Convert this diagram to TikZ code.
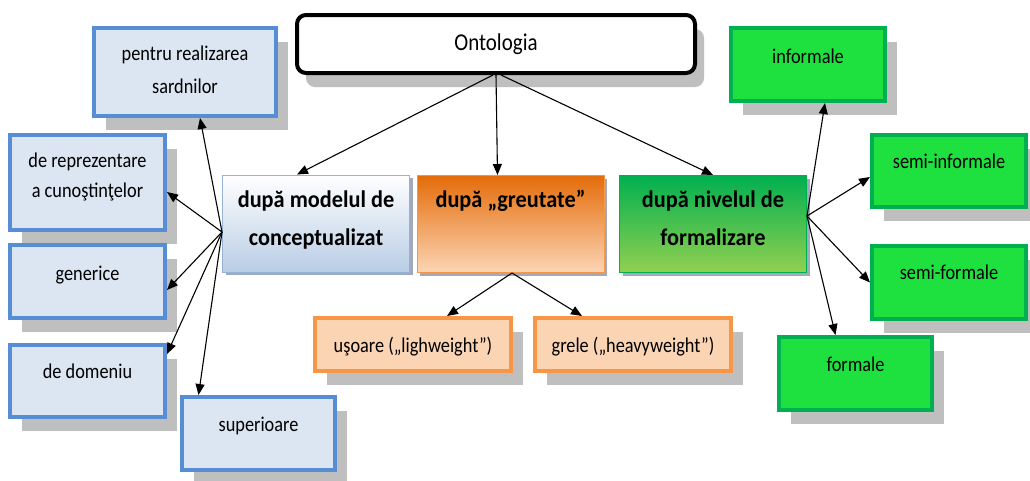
\documentclass[tikz,border=0pt]{standalone}
\usepackage{fontspec}
\setmainfont{Carlito}
\usepackage{graphicx}
\usetikzlibrary{arrows.meta,shadows}

\definecolor{bluefill}{RGB}{220,230,242}
\definecolor{blueline}{RGB}{85,142,213}
\definecolor{shadegray}{RGB}{191,191,191}
\definecolor{orfill}{RGB}{251,212,180}
\definecolor{orline}{RGB}{247,150,70}
\definecolor{grfill}{RGB}{30,224,62}
\definecolor{grline}{RGB}{0,176,80}
\definecolor{orangetop}{RGB}{228,108,10}
\definecolor{orangebot}{RGB}{252,213,181}
\definecolor{greentop}{RGB}{0,176,80}
\definecolor{greenbot}{RGB}{146,208,80}
\definecolor{bluebot}{RGB}{185,205,229}
\definecolor{bluerim}{RGB}{149,179,215}
\definecolor{midshadow}{RGB}{160,170,190}

% slightly taller lettering
\newcommand{\tall}[1]{\scalebox{1}[1.15]{#1}}
\newcommand{\tallb}[1]{\scalebox{1}[1.07]{#1}}

\tikzset{
  sq/.style={draw, rectangle, line width=4pt, inner sep=0pt,
    drop shadow={shadow xshift=12pt, shadow yshift=-14pt, fill=shadegray, opacity=1}},
  bluebox/.style={sq, draw=blueline, fill=bluefill},
  orbox/.style={sq, draw=orline, fill=orfill},
  grbox/.style={sq, draw=grline, fill=grfill},
  rootbox/.style={draw=black, fill=white, rectangle, rounded corners=9pt, line width=4pt, inner sep=0pt,
    drop shadow={shadow xshift=9pt, shadow yshift=-14pt, fill=shadegray, opacity=1}},
  midbox/.style={rectangle, line width=1pt, inner sep=0pt,
    minimum width=187pt, minimum height=97pt,
    drop shadow={shadow xshift=3pt, shadow yshift=-3pt, fill=midshadow, opacity=1}},
  txt/.style={anchor=base, inner sep=0pt, font=\fontsize{18.3}{22}\selectfont},
  roottxt/.style={anchor=base, inner sep=0pt, font=\fontsize{21}{25}\selectfont},
  btxt/.style={anchor=base, inner sep=0pt, font=\bfseries\fontsize{22.3}{26}\selectfont},
  arr/.style={draw=black, line width=1.1pt, -{Triangle[length=11pt,width=9pt]}}
}

\begin{document}
\begin{tikzpicture}[x=1pt,y=1pt]
\useasboundingbox (0,0) rectangle (1030,-480);
\fill[white] (0,0) rectangle (1030,-480);

% root
\node[rootbox, minimum width=398pt, minimum height=58pt] (ont) at (496,-44) {};

% middle classification boxes
\node[midbox, draw=bluerim, top color=white, bottom color=bluebot] (mod) at (316,-223.5) {};
\node[midbox, draw=orline, top color=orangetop, bottom color=orangebot] (gre) at (510.5,-224) {};
\node[midbox, draw=grline, top color=greentop, bottom color=greenbot] (niv) at (713,-224) {};

% left branch
\node[bluebox, minimum width=182pt, minimum height=88pt] (sard) at (185,-72) {};
\node[bluebox, minimum width=155pt, minimum height=95pt] (repr) at (87.5,-182.5) {};
\node[bluebox, minimum width=155pt, minimum height=73pt] (gen) at (87.5,-281.5) {};
\node[bluebox, minimum width=155pt, minimum height=72pt] (dom) at (87.5,-381) {};
\node[bluebox, minimum width=153pt, minimum height=73pt] (sup) at (258.5,-433.5) {};

% middle branch
\node[orbox, minimum width=196pt, minimum height=53pt] (uso) at (413,-344.5) {};
\node[orbox, minimum width=196pt, minimum height=53pt] (grele) at (633,-344.5) {};

% right branch
\node[grbox, minimum width=154pt, minimum height=73pt] (inf) at (808,-64.5) {};
\node[grbox, minimum width=154pt, minimum height=72pt] (sinf) at (949,-171) {};
\node[grbox, minimum width=154pt, minimum height=73pt] (sfor) at (949,-282.5) {};
\node[grbox, minimum width=153pt, minimum height=73pt] (form) at (855.5,-373.5) {};

% labels
\node[roottxt] (ontT) at (496,-50) {\tall{Ontologia}};
\node[btxt] (modA) at (316,-207) {\tallb{după modelul de}};
\node[btxt] (modB) at (316,-245) {\tallb{conceptualizat}};
\node[btxt] (greT) at (510.5,-207) {\tallb{după „greutate”}};
\node[btxt] (nivA) at (713,-207) {\tallb{după nivelul de}};
\node[btxt] (nivB) at (713,-245) {\tallb{formalizare}};

\node[txt] (sardA) at (185,-60) {\tall{pentru realizarea}};
\node[txt] (sardB) at (185,-93) {\tall{sardnilor}};
\node[txt] (reprA) at (87.5,-167) {\tall{de reprezentare}};
\node[txt] (reprB) at (87.5,-197) {\tall{a cunoştinţelor}};
\node[txt] (genT) at (87.5,-280) {\tall{generice}};
\node[txt] (domT) at (87.5,-378) {\tall{de domeniu}};
\node[txt] (supT) at (258.5,-431) {\tall{superioare}};

\node[txt] (usoT) at (413,-352) {\tall{uşoare („lighweight”)}};
\node[txt] (greleT) at (633,-352) {\tall{grele („heavyweight”)}};

\node[txt] (infT) at (808,-63) {\tall{informale}};
\node[txt] (sinfT) at (949,-168) {\tall{semi-informale}};
\node[txt] (sforT) at (949,-279) {\tall{semi-formale}};
\node[txt] (formT) at (855.5,-371) {\tall{formale}};

% connectors from the root
\draw[arr] ([xshift=-3]ont.south) -- ([xshift=-19]mod.north);
\draw[arr] (ont.south) -- ([xshift=-13]gre.north);
\draw[arr] ([xshift=5]ont.south) -- (niv.north);

% connectors of the conceptual model
\draw[arr] ([yshift=-8.5]mod.west) -- ([xshift=15]sard.south);
\draw[arr] ([yshift=-8.5]mod.west) -- ([yshift=-9.5]repr.east);
\draw[arr] ([yshift=-8.5]mod.west) -- ([yshift=-8.5]gen.east);
\draw[arr] ([yshift=-8.5]mod.west) -- ([yshift=27]dom.east);
\draw[arr] ([yshift=-8.5]mod.west) -- ([xshift=-60]sup.north);

% connectors of the weight
\draw[arr] ([xshift=1.5]gre.south) -- ([xshift=34]uso.north);
\draw[arr] ([xshift=1.5]gre.south) -- ([xshift=-51]grele.north);

% connectors of the formalisation level
\draw[arr] ([yshift=8]niv.east) -- ([xshift=17]inf.south);
\draw[arr] ([yshift=8]niv.east) -- ([yshift=-6]sinf.west);
\draw[arr] ([yshift=8]niv.east) -- (sfor.west);
\draw[arr] ([yshift=8]niv.east) -- ([xshift=-20]form.north);
\end{tikzpicture}
\end{document}
